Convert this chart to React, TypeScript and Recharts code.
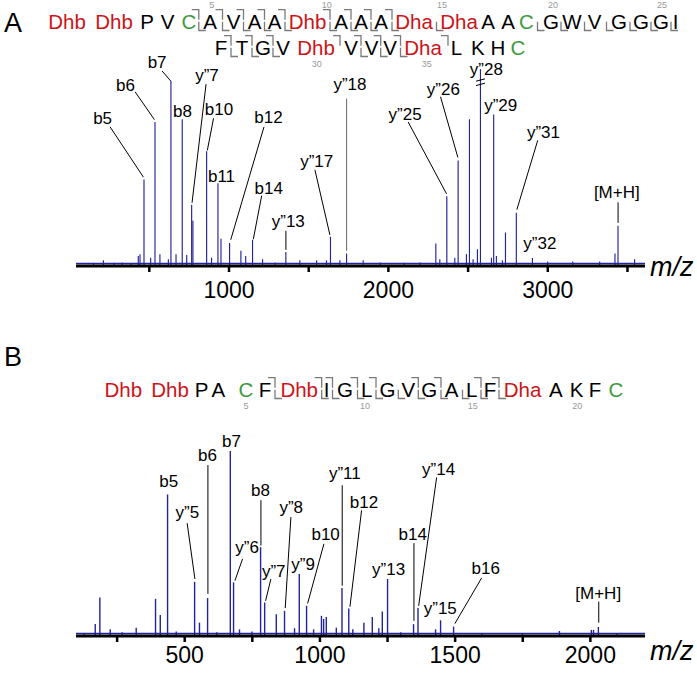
import React from 'react';
import { ComposedChart, Bar, XAxis, YAxis, ReferenceLine, ReferenceDot } from 'recharts';

const FONT = '"Liberation Sans", Arial, Helvetica, sans-serif';
const PEAK = '#23239b';
const RED = '#cc1417';
const GREEN = '#3d9a3d';
const GRAY = '#7a7a7a';

// ---- panel A spectrum (m/z, relative intensity; y"28 is truncated at 100)
const A_MZ = [150, 212, 280, 330, 385, 431, 442, 467, 509, 536, 567, 620, 636, 668, 707, 735, 766, 774, 860, 891, 931, 950, 1004, 1075, 1105, 1148, 1211, 1290, 1357, 1445, 1550, 1612, 1637, 1696, 1738, 1842, 1950, 2100, 2200, 2298, 2323, 2367, 2417, 2438, 2490, 2509, 2532, 2559, 2578, 2647, 2661, 2678, 2716, 2735, 2803, 2904, 3000, 3157, 3326, 3422, 3441, 3545];
const A_INT = [1.6, 2.9, 1.6, 1.8, 1.5, 5.1, 6, 43.9, 4.2, 73.1, 6, 3.4, 93.9, 6, 74.5, 5.6, 31.1, 23, 58.2, 4.2, 42, 13.8, 11.7, 7.7, 5.1, 13.3, 3.4, 1.8, 7.1, 2.9, 2.9, 2.9, 14.8, 2.9, 6.3, 2.9, 1.8, 1.6, 1.8, 11.4, 3.4, 35.4, 4.2, 53.6, 6, 74.5, 3.4, 8.5, 100, 4.2, 76.9, 5.1, 2.9, 17, 27, 4.1, 2.3, 2.3, 2.3, 6.3, 20.4, 3.4];
const A_TICKS = [500, 1000, 1500, 2000, 2500, 3000, 3500];
const A_BROKEN = 2578;

// ---- panel B spectrum
const B_MZ = [130, 170.5, 187.6, 226, 270, 322, 393.5, 411, 438, 470, 538, 556, 586, 620, 670, 682, 704, 750, 782, 797, 840, 870.5, 907.5, 925, 952, 978, 1007, 1015, 1025, 1062, 1083, 1108, 1123, 1164, 1195, 1219, 1232, 1251.5, 1300, 1347.6, 1364, 1429, 1447.5, 1495.6, 1600, 1750, 1887, 2005, 2013, 2031, 2100];
const B_INT = [1.5, 6.5, 20.8, 3.6, 2, 4.5, 20.1, 11.4, 76.5, 2.5, 29.3, 7.2, 20.5, 2, 100, 29, 3.6, 2.5, 48, 18.1, 11.8, 13.6, 4.2, 33.5, 16.3, 3.6, 10.9, 9.2, 10.3, 4.5, 25.9, 14.8, 3.6, 7.2, 10.3, 4.2, 13.2, 30.8, 2, 6.4, 15.1, 3.6, 8.5, 5.1, 1.5, 1.5, 2.7, 3.3, 3.3, 4.9, 1.5];
const B_TICKS = [250, 500, 750, 1000, 1250, 1500, 1750, 2000];

// ---- fragment annotations, in data units (label centre, leader from -> to)
type Ann = { text: string; x: number; y: number; from?: [number, number]; to?: [number, number]; gray?: boolean };

const A_ANN: Ann[] = [
  { text: 'b5', x: 207, y: 74.8, from: [254, 70.6], to: [463, 45.1] },
  { text: 'b6', x: 351, y: 91.8, from: [411, 88.4], to: [532, 74.3] },
  { text: 'b7', x: 549, y: 103.1, from: [580, 99], to: [634.5, 93.9] },
  { text: 'y\u201D7', x: 862, y: 96.9, from: [856, 92.3], to: [768, 32.1] },
  { text: 'b8', x: 708.5, y: 78.6 },
  { text: 'b10', x: 937, y: 79.6, from: [903, 75], to: [864, 58.7] },
  { text: 'b11', x: 953, y: 45.4 },
  { text: 'b12', x: 1248, y: 75.5, from: [1219.5, 70.6], to: [1010.7, 13.3] },
  { text: 'b14', x: 1249.5, y: 39.1, from: [1205, 35.7], to: [1152.4, 13.6] },
  { text: 'y\u201D13', x: 1372, y: 22.6, from: [1357, 17.9], to: [1357, 8.2] },
  { text: 'y\u201D17', x: 1550, y: 53.2, from: [1539, 48.8], to: [1633, 15.8] },
  { text: 'y\u201D18', x: 1758.6, y: 92.1, from: [1738, 85], to: [1738, 7.7], gray: true },
  { text: 'y\u201D25', x: 2105, y: 76.9, from: [2124, 73.1], to: [2365, 36.6] },
  { text: 'y\u201D26', x: 2345, y: 89.7, from: [2327, 85.9], to: [2436, 55.1] },
  { text: 'y\u201D28', x: 2615, y: 99.6 },
  { text: 'y\u201D29', x: 2705, y: 81.4 },
  { text: 'y\u201D31', x: 2973, y: 67.6, from: [2937, 63.8], to: [2806, 28.6] },
  { text: 'y\u201D32', x: 2950, y: 11.5 },
  { text: '[M+H]', x: 3433, y: 37.4, from: [3441, 32.3], to: [3441, 21.9] },
];

const B_ANN: Ann[] = [
  { text: 'b5', x: 441, y: 83.3 },
  { text: 'y\u201D5', x: 510, y: 66.6, from: [509, 61], to: [537.7, 30.8] },
  { text: 'b6', x: 584, y: 97.8, from: [585.8, 92.4], to: [585.8, 22.8] },
  { text: 'b7', x: 673, y: 105.1 },
  { text: 'y\u201D6', x: 731, y: 48, from: [714, 41.7], to: [685.6, 29.9] },
  { text: 'b8', x: 780, y: 78.8, from: [781.8, 73.4], to: [781.8, 48.9] },
  { text: 'y\u201D7', x: 829, y: 34.9, from: [818.7, 30.8], to: [799, 19] },
  { text: 'y\u201D8', x: 894, y: 69.7, from: [892.7, 64.3], to: [871.6, 15.1] },
  { text: 'y\u201D9', x: 938, y: 38.5 },
  { text: 'b10', x: 1021, y: 54.8, from: [1014.7, 49.8], to: [954.5, 17.6] },
  { text: 'y\u201D11', x: 1092, y: 87.9, from: [1082.4, 81.5], to: [1082.4, 27.2] },
  { text: 'b12', x: 1163, y: 72.4, from: [1154, 67.9], to: [1111, 15.8] },
  { text: 'y\u201D13', x: 1254, y: 35.8 },
  { text: 'b14', x: 1343, y: 54.8, from: [1347.6, 50.2], to: [1347.6, 8.2] },
  { text: 'y\u201D14', x: 1439, y: 90.1, from: [1431.5, 85.7], to: [1365, 16.3] },
  { text: 'y\u201D15', x: 1445, y: 14.9 },
  { text: 'b16', x: 1613, y: 36.7, from: [1598, 31.4], to: [1499, 6.7] },
  { text: '[M+H]', x: 2029, y: 23.1, from: [2031, 18.6], to: [2031, 7.2] },
];

// ---- peptide sequences
const SEQ_A1 = ['Dhb', 'Dhb', 'P', 'V', 'C', 'A', 'V', 'A', 'A', 'Dhb', 'A', 'A', 'A', 'Dha', 'Dha', 'A', 'A', 'C', 'G', 'W', 'V', 'G', 'G', 'G', 'I'];
const SEQ_A2 = ['F', 'T', 'G', 'V', 'Dhb', 'V', 'V', 'V', 'Dha', 'L', 'K', 'H', 'C'];
const SEQ_B = ['Dhb', 'Dhb', 'P', 'A', 'C', 'F', 'Dhb', 'I', 'G', 'L', 'G', 'V', 'G', 'A', 'L', 'F', 'Dha', 'A', 'K', 'F', 'C'];
// which residue gaps carry b (top) / y (bottom) cleavage marks
const CUT_A1 = ['', '', '', '', 'by', 'by', 'by', 'by', 'by', 'by', 'by', 'by', 'by', 'y', '', '', '', 'y', 'y', 'y', 'y', 'y', 'y', 'y'];
const CUT_A2 = ['by', 'by', 'by', '', 'b', 'by', 'by', 'by', 'b', '', '', ''];
const CUT_B = ['', '', '', '', '', 'by', 'by', 'by', 'by', 'by', 'y', 'by', 'by', 'y', 'by', 'by', '', '', '', ''];
const NUM_A1 = ['5', '10', '15', '20', '25'];
const NUM_A2 = ['30', '35'];
const NUM_B = ['5', '10', '15', '20'];

// layout of the sequence text (pixel centres of residues)
const POS_A1 = [67, 114, 147, 167.5, 189, 210, 233.5, 254.5, 274.5, 307.5, 341, 361, 381, 414, 459, 488, 508, 526.5, 551, 572, 594.5, 619, 641, 661, 675.5];
const POS_A2 = [221, 242, 263, 283, 316, 351, 371.5, 390, 423, 456.5, 477.8, 497.8, 517.8];
const POS_B = [123.3, 170, 201.7, 218.3, 245.8, 265, 299.2, 326.7, 345, 366.7, 387.5, 408.3, 429.2, 451.7, 471.7, 490, 522.5, 555.8, 576.7, 595, 615.8];
const GAP_A1 = [90, 130, 157, 178, 198.8, 222.5, 243.5, 264.5, 285, 330, 351, 371, 392, 436.5, 479, 498, 517, 537.5, 561, 584.5, 606.5, 630, 651, 671];
const GAP_A2 = [231, 252, 273, 294, 340, 361, 380.7, 400.5, 448, 467, 488, 508];
const GAP_B = [147, 190, 210, 231, 256, 275, 321.7, 332.5, 357.5, 376, 398.3, 418.3, 441, 462.5, 481, 499, 541, 566.5, 586, 605];
const NUMPOS_A1 = [[211.7, 8], [326.7, 8], [442, 8], [553, 8], [662, 8]];
const NUMPOS_A2 = [[316.7, 67], [426.7, 67]];
const NUMPOS_B = [[246, 409], [365, 409], [472.7, 409], [577.3, 409]];

const resColor = (r: string) => (r.startsWith('Dh') ? RED : r === 'C' ? GREEN : '#000');

function SeqRow({ seq, pos, cuts, gaps, base, size }: { seq: string[]; pos: number[]; cuts: string[]; gaps: number[]; base: number; size: number }) {
  const top = base - size * 0.95;
  const mid = base - size * 0.45;
  const bot = base + 1.5;
  return (
    <g>
      {seq.map((r, i) => (
        <text key={'r' + i} x={pos[i]} y={base} textAnchor="middle" fontSize={size} fill={resColor(r)}>
          {r}
        </text>
      ))}
      {cuts.map((c, i) => {
        const g = gaps[i];
        return (
          <g key={'c' + i} stroke={GRAY} strokeWidth={1.3} fill="none">
            {c.includes('b') && <path d={`M${g - 7},${top} H${g} V${mid}`} />}
            {c.includes('y') && <path d={`M${g},${mid + 2} V${bot} H${g + 7}`} />}
          </g>
        );
      })}
    </g>
  );
}

const labelShape = (text: string) => (p: any) => (
  <text x={p.cx} y={p.cy} textAnchor="middle" dominantBaseline="central" fontSize={17} fontFamily={FONT} fill="#000">
    {text}
  </text>
);

type PanelProps = {
  mz: number[];
  inten: number[];
  ann: Ann[];
  domain: [number, number];
  ticks: number[];
  major: number;
  height: number;
  top: number;
  bottom: number;
  tickMargin: number;
  broken?: number;
};

function Spectrum({ mz, inten, ann, domain, ticks, major, height, top, bottom, tickMargin, broken }: PanelProps) {
  const data = mz.map((m, i) => ({ mz: m, i: inten[i] }));
  const brokenPeak = data.find((d) => d.mz === broken);
  return (
    <ComposedChart width={697} height={height} data={data} margin={{ top, right: 52, bottom, left: 76 }}>
      <XAxis
        dataKey="mz"
        type="number"
        domain={domain}
        allowDataOverflow
        ticks={ticks}
        tickFormatter={(v: number) => (v % major === 0 ? String(v) : '')}
        axisLine={{ stroke: '#000', strokeWidth: 3 }}
        tickLine={{ stroke: '#000', strokeWidth: 2.5 }}
        tickSize={6}
        tickMargin={tickMargin}
        tick={{ fill: '#000', fontSize: 23, fontFamily: FONT }}
        height={40}
      />
      <YAxis hide domain={[0, 100]} allowDataOverflow />
      <ReferenceLine y={1.3} stroke={PEAK} strokeWidth={1.5} />
      <Bar dataKey="i" fill={PEAK} barSize={1.4} isAnimationActive={false} />
      {brokenPeak && (
        <ReferenceLine
          segment={[{ x: brokenPeak.mz - 28, y: brokenPeak.i - 6.2 }, { x: brokenPeak.mz + 28, y: brokenPeak.i - 5 }]}
          stroke="#000"
          strokeWidth={1}
          ifOverflow="visible"
        />
      )}
      {brokenPeak && (
        <ReferenceLine
          segment={[{ x: brokenPeak.mz - 28, y: brokenPeak.i - 8.4 }, { x: brokenPeak.mz + 28, y: brokenPeak.i - 7.2 }]}
          stroke="#000"
          strokeWidth={1}
          ifOverflow="visible"
        />
      )}
      {ann.map((a, k) =>
        a.from && a.to ? (
          <ReferenceLine
            key={'l' + k}
            segment={[{ x: a.from[0], y: a.from[1] }, { x: a.to[0], y: a.to[1] }]}
            stroke={a.gray ? '#666' : '#000'}
            strokeWidth={1}
            ifOverflow="visible"
          />
        ) : null
      )}
      {ann.map((a, k) => (
        <ReferenceDot key={'t' + k} x={a.x} y={a.y} r={0} ifOverflow="visible" shape={labelShape(a.text)} />
      ))}
    </ComposedChart>
  );
}

export default function App() {
  return (
    <div style={{ position: 'absolute', left: 0, top: 0, width: 697, height: 675, background: '#fff', fontFamily: FONT }}>
      <div style={{ position: 'absolute', left: 0, top: 0 }}>
        <Spectrum mz={A_MZ} inten={A_INT} ann={A_ANN} domain={[40, 3610]} ticks={A_TICKS} major={1000} height={320} top={69} bottom={14} tickMargin={10} broken={A_BROKEN} />
      </div>
      <div style={{ position: 'absolute', left: 0, top: 330 }}>
        <Spectrum mz={B_MZ} inten={B_INT} ann={B_ANN} domain={[98, 2202]} ticks={B_TICKS} major={500} height={345} top={121} bottom={-1} tickMargin={5} />
      </div>
      <svg width={697} height={675} style={{ position: 'absolute', left: 0, top: 0, pointerEvents: 'none' }} fontFamily={FONT}>
        <text x={4} y={32} fontSize={27} fill="#000">A</text>
        <text x={4} y={366} fontSize={27} fill="#000">B</text>
        <SeqRow seq={SEQ_A1} pos={POS_A1} cuts={CUT_A1} gaps={GAP_A1} base={29} size={20.5} />
        <SeqRow seq={SEQ_A2} pos={POS_A2} cuts={CUT_A2} gaps={GAP_A2} base={55} size={20.5} />
        <SeqRow seq={SEQ_B} pos={POS_B} cuts={CUT_B} gaps={GAP_B} base={397} size={20.5} />
        {NUM_A1.map((n, i) => (
          <text key={'na' + i} x={NUMPOS_A1[i][0]} y={NUMPOS_A1[i][1]} textAnchor="middle" fontSize={9} fill="#999">{n}</text>
        ))}
        {NUM_A2.map((n, i) => (
          <text key={'nb' + i} x={NUMPOS_A2[i][0]} y={NUMPOS_A2[i][1]} textAnchor="middle" fontSize={9} fill="#999">{n}</text>
        ))}
        {NUM_B.map((n, i) => (
          <text key={'nc' + i} x={NUMPOS_B[i][0]} y={NUMPOS_B[i][1]} textAnchor="middle" fontSize={9} fill="#999">{n}</text>
        ))}
        <text x={650} y={276} fontSize={27} fontStyle="italic" fill="#000">m/z</text>
        <text x={650} y={660} fontSize={27} fontStyle="italic" fill="#000">m/z</text>
      </svg>
    </div>
  );
}
